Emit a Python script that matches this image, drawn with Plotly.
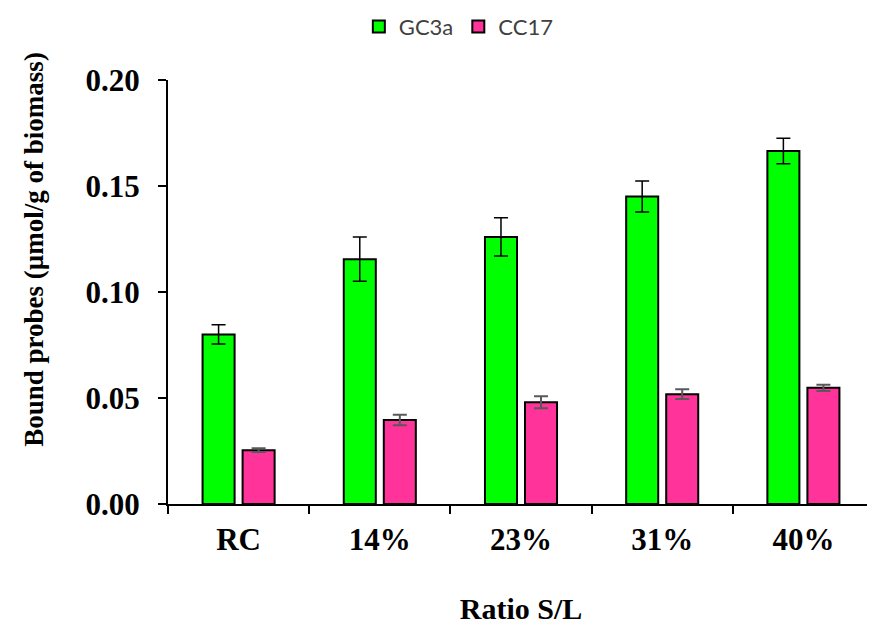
import plotly.graph_objects as go

categories = ["RC", "14%", "23%", "31%", "40%"]
gc3a = [0.080, 0.1155, 0.126, 0.145, 0.1665]
gc3a_err = [0.0045, 0.0104, 0.009, 0.0073, 0.006]
cc17 = [0.0254, 0.0396, 0.048, 0.0518, 0.0548]
cc17_err = [0.0009, 0.0025, 0.0028, 0.0023, 0.0015]

x_title = "Ratio S/L"
y_title = "Bound probes (µmol/g of biomass)"

SERIF = "Liberation Serif"

fig = go.Figure()
fig.add_trace(go.Bar(
    x=categories, y=gc3a, name="GC3a",
    marker=dict(color="#00FF00", line=dict(color="black", width=2)),
    error_y=dict(type="data", array=gc3a_err, color="black", thickness=1.5, width=7),
))
fig.add_trace(go.Bar(
    x=categories, y=cc17, name="CC17",
    marker=dict(color="#FF3399", line=dict(color="black", width=2)),
    error_y=dict(type="data", array=cc17_err, color="#595959", thickness=2, width=7),
))

fig.add_annotation(
    text=y_title, textangle=-90, showarrow=False,
    xref="paper", yref="paper", x=-0.191, y=0.60, xanchor="center", yanchor="middle",
    font=dict(family=SERIF, size=27, color="black", weight="bold"),
)

fig.update_layout(
    width=867, height=622,
    margin=dict(l=160, r=1, t=72, b=126, autoexpand=False),
    paper_bgcolor="white", plot_bgcolor="white",
    barmode="group", bargap=0.433, bargroupgap=0.2,
    showlegend=True,
    legend=dict(orientation="h", x=0.52, xref="container", xanchor="center",
                y=0.97, yref="container", yanchor="middle",
                font=dict(family="Lato", size=22, color="#404040"),
                itemwidth=30, traceorder="normal"),
    xaxis=dict(
        automargin=False,
        showline=True, linecolor="black", linewidth=2,
        ticks="outside", tickson="boundaries", ticklen=8, tickwidth=2, tickcolor="black",
        ticklabelstandoff=7,
        tickfont=dict(family=SERIF, size=31, color="black", weight="bold"),
        title=dict(text=x_title, standoff=42,
                   font=dict(family=SERIF, size=30, color="black", weight="bold")),
        showgrid=False, zeroline=False,
    ),
    yaxis=dict(
        automargin=False,
        range=[0, 0.2], dtick=0.05, tickformat=".2f",
        showline=True, linecolor="black", linewidth=2,
        ticks="outside", ticklen=8, tickwidth=2, tickcolor="black",
        ticklabelstandoff=12,
        tickfont=dict(family=SERIF, size=31, color="black", weight="bold"),
        showgrid=False, zeroline=False,
    ),
)

fig.write_html("out.html")
